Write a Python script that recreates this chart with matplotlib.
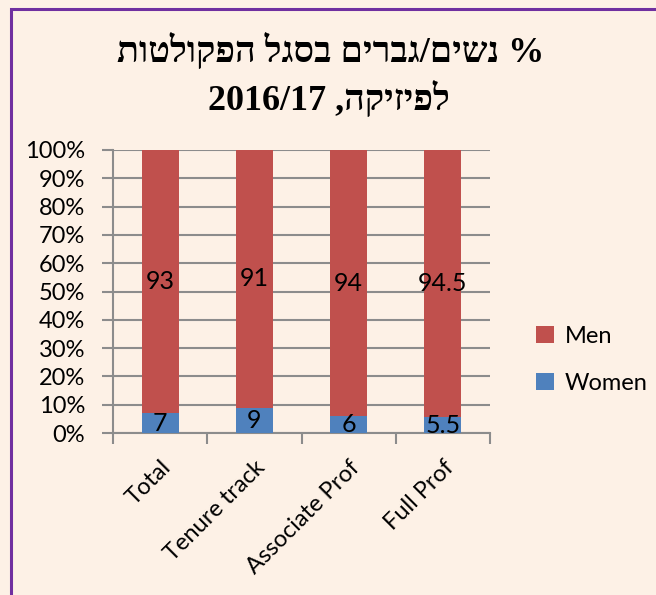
import matplotlib
matplotlib.use("Agg")
import matplotlib.pyplot as plt
from matplotlib.lines import Line2D
import numpy as np

categories = ["Total", "Tenure track", "Associate Prof", "Full Prof"]
women = [7, 9, 6, 5.5]
men = [93, 91, 94, 94.5]
women_labels = ["7", "9", "6", "5.5"]
men_labels = ["93", "91", "94", "94.5"]
title_line1_logical = "% נשים/גברים בסגל הפקולטות"
title_word2 = "לפיזיקה"
title_year = "2016/17"

BG = "#FDF1E6"
MEN_C = "#C0504D"
WOMEN_C = "#4F81BD"
GRID_C = "#8C8C8C"
FONT = ["Lato", "DejaVu Sans"]
FS = 17

fig = plt.figure(figsize=(6.56, 5.95), dpi=100, facecolor=BG)
ax = fig.add_axes([113/656, 1-433/595, (490-113)/656, (433-150)/595])
ax.set_facecolor(BG)

x = np.arange(len(categories))
w = 0.39
wb = np.array(women) / 100.0
mb = np.array(men) / 100.0
b1 = ax.bar(x, wb, w, color=WOMEN_C, label="Women", zorder=3)
b2 = ax.bar(x, mb, w, bottom=wb, color=MEN_C, label="Men", zorder=3)

for i in range(len(categories)):
    ax.text(x[i], wb[i] / 2, women_labels[i], ha="center", va="center",
            fontsize=18, family=FONT, color="black", zorder=4)
    ax.text(x[i], wb[i] + mb[i] / 2, men_labels[i], ha="center", va="center",
            fontsize=18, family=FONT, color="black", zorder=4)

ax.set_xlim(-0.5, len(categories) - 0.5)
ax.set_ylim(0, 1)
yt = np.linspace(0, 1, 11)
ax.set_yticks(yt)
ax.set_yticklabels([f"{int(round(v*100))}%" for v in yt], family=FONT, fontsize=FS)
ax.yaxis.grid(True, color=GRID_C, linewidth=1.5, zorder=0)
ax.tick_params(axis="y", length=8, width=1.5, color=GRID_C, pad=12)

ax.set_xticks(x)
ax.set_xticklabels(categories, rotation=45, ha="right", va="top",
                   rotation_mode="anchor", family=FONT, fontsize=FS)
ax.tick_params(axis="x", which="major", length=0, pad=17)
ax.set_xticks(np.arange(-0.5, len(categories)), minor=True)
ax.tick_params(axis="x", which="minor", length=8, width=1.5, color=GRID_C)

for s in ["top", "right"]:
    ax.spines[s].set_visible(False)
for s in ["left", "bottom"]:
    ax.spines[s].set_color(GRID_C)
    ax.spines[s].set_linewidth(1.5)

handles = [b2, b1]
leg = fig.legend(handles, ["Men", "Women"], loc="center left",
                 bbox_to_anchor=(515/656, 1-360/595), frameon=False,
                 prop={"family": FONT, "size": FS}, handlelength=0.75,
                 handleheight=0.75, handletextpad=0.45, labelspacing=1.1)

# Title (visual order for right-to-left text)
line1 = title_line1_logical[::-1]
line2 = title_year + " ," + title_word2[::-1]
tfont = ["Liberation Serif", "DejaVu Sans"]
fig.text(331/656, 1-62/595, line1, ha="center", va="baseline",
         fontsize=26, fontweight="bold", family=tfont)
fig.text(329/656, 1-110/595, line2, ha="center", va="baseline",
         fontsize=26, fontweight="bold", family=tfont)

# Purple border
fig.add_artist(Line2D([11/656, 11/656, 1.0], [0, 1-8.5/595, 1-8.5/595],
                      transform=fig.transFigure, color="#7030A0", linewidth=2.2,
                      solid_joinstyle="miter"))

fig.savefig("out.png", dpi=100, facecolor=BG)
